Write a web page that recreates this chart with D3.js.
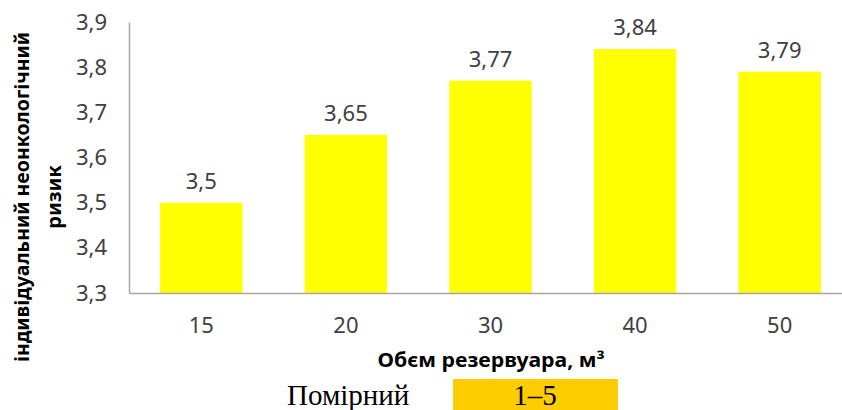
<!DOCTYPE html>
<html>
<head>
<meta charset="utf-8">
<script src="https://cdn.jsdelivr.net/npm/d3@7"></script>
<style>
	body { margin: 0; background: #fff; }
	svg { display: block; }
</style>
</head>
<body>
<svg id="chart" width="842" height="410"></svg>
<script>
var volumes = ["15", "20", "30", "40", "50"];
var riskValues = [3.5, 3.65, 3.77, 3.84, 3.79];
var yTicks = [3.3, 3.4, 3.5, 3.6, 3.7, 3.8, 3.9];
var yTitleLines = ["індивідуальний неонкологічний", "ризик"];
var xTitle = "Обєм резервуара, м³";
var legendLabel = "Помірний";
var legendRange = "1–5";

var svg = d3.select("#chart"),
	margin = { top: 22, right: -10, bottom: 117, left: 129 },
	width = 842 - margin.left - margin.right,
	height = 410 - margin.top - margin.bottom,
	g = svg.append("g").attr("transform", "translate(" + margin.left + "," + margin.top + ")");

var fmt = function (v) { return String(v).replace(".", ","); };

var x = d3.scaleBand()
	.domain(volumes)
	.range([0, width])
	.paddingInner(0.43)
	.paddingOuter(0.215);

var y = d3.scaleLinear()
	.domain([3.3, 3.9])
	.range([height, 0]);

// bars
g.selectAll(".bar")
	.data(riskValues)
	.enter().append("rect")
	.attr("class", "bar")
	.attr("fill", "#ffff00")
	.attr("x", function (d, i) { return x(volumes[i]); })
	.attr("y", function (d) { return y(d); })
	.attr("width", x.bandwidth())
	.attr("height", function (d) { return height - y(d); });

// value labels
g.selectAll(".val")
	.data(riskValues)
	.enter().append("text")
	.attr("class", "val")
	.attr("x", function (d, i) { return x(volumes[i]) + x.bandwidth() / 2; })
	.attr("y", function (d) { return y(d) - 14; })
	.attr("text-anchor", "middle")
	.attr("font-family", "Noto Sans")
	.attr("font-size", "22px")
	.attr("fill", "#404040")
	.text(function (d) { return fmt(d); });

// axes
var xAxis = g.append("g")
	.attr("transform", "translate(0," + height + ")")
	.call(d3.axisBottom(x).tickSize(0).tickPadding(0));
xAxis.select(".domain").attr("stroke", "#a6a6a6").attr("stroke-width", 1.5);
xAxis.selectAll("text")
	.attr("y", 40)
	.attr("dy", null)
	.attr("font-family", "Noto Sans")
	.attr("font-size", "22px")
	.attr("fill", "#404040");

var yAxis = g.append("g")
	.call(d3.axisLeft(y).tickValues(yTicks).tickFormat(fmt).tickSize(0).tickPadding(22));
yAxis.select(".domain").attr("stroke", "#a6a6a6").attr("stroke-width", 1.5);
yAxis.selectAll("text")
	.attr("font-family", "Noto Sans")
	.attr("font-size", "22px")
	.attr("fill", "#404040");

// axis titles
svg.append("text")
	.attr("x", 491)
	.attr("y", 367)
	.attr("text-anchor", "middle")
	.attr("font-family", "Noto Sans")
	.attr("font-weight", "bold")
	.attr("font-size", "19px")
	.attr("textLength", 227)
	.attr("lengthAdjust", "spacingAndGlyphs")
	.attr("fill", "#000")
	.text(xTitle);

var yTitle = svg.append("text")
	.attr("transform", "translate(0,197) rotate(-90)")
	.attr("text-anchor", "middle")
	.attr("font-family", "Noto Sans")
	.attr("font-weight", "bold")
	.attr("font-size", "20px")
	.attr("fill", "#000");
yTitle.selectAll("tspan")
	.data(yTitleLines)
	.enter().append("tspan")
	.attr("x", 0)
	.attr("y", function (d, i) { return 29 + i * 32; })
	.attr("textLength", function (d, i) { return i === 0 ? 330 : 64; })
	.attr("lengthAdjust", "spacingAndGlyphs")
	.text(function (d) { return d; });

// legend row under the chart
svg.append("text")
	.attr("x", 287)
	.attr("y", 405)
	.attr("font-family", "Liberation Serif")
	.attr("font-size", "29px")
	.attr("fill", "#000")
	.text(legendLabel);

svg.append("rect")
	.attr("x", 453)
	.attr("y", 379)
	.attr("width", 165)
	.attr("height", 31)
	.attr("fill", "#ffcc00");

svg.append("text")
	.attr("x", 535)
	.attr("y", 405)
	.attr("text-anchor", "middle")
	.attr("font-family", "Liberation Serif")
	.attr("font-size", "29px")
	.attr("fill", "#000")
	.text(legendRange);
</script>
</body>
</html>
